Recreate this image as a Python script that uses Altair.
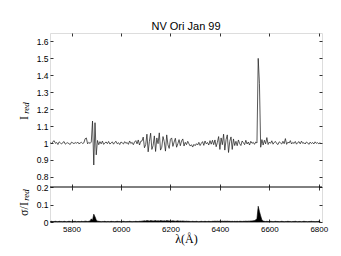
import altair as alt
import pandas as pd

flux = [
    # 5715 - 5850
    1.002, 0.996, 1.009, 1.013, 0.998, 1.003, 0.991, 1.007, 1.000, 0.994,
    1.004, 1.008, 0.993, 0.999, 1.002, 0.995, 0.992, 1.005, 1.001, 0.996,
    1.003, 0.998, 1.006, 0.995, 1.000, 1.004, 0.997, 1.001,
    # 5855 - 5910 (Na D)
    1.025, 1.030, 0.995, 1.004, 0.997, 1.006, 1.130, 0.870, 1.120, 0.930,
    1.015, 0.990,
    # 5915 - 6080
    1.008, 0.995, 1.011, 0.992, 1.001, 1.006, 0.996, 1.009, 0.994, 0.999,
    1.007, 0.993, 1.004, 1.010, 0.995, 1.002, 0.991, 1.006, 1.001, 0.994,
    1.008, 0.998, 1.003, 0.992, 1.012, 0.997, 1.004, 0.990, 1.006, 1.014,
    0.995, 1.018, 0.988, 1.010,
    # 6085 - 6200
    1.012, 1.035, 0.972, 0.990, 1.052, 0.948, 1.010, 1.058, 0.962, 0.985,
    1.042, 0.950, 1.030, 0.996, 1.060, 0.958, 0.975, 1.038, 1.008, 0.952,
    1.048, 0.990, 0.968, 1.022,
    # 6205 - 6270
    1.030, 0.980, 1.006, 1.028, 0.975, 0.996, 1.020, 0.984, 1.012, 1.024,
    0.982, 1.004, 0.990, 1.010,
    # 6275 - 6375
    0.995, 0.982, 0.990, 0.976, 0.992, 0.984, 0.996, 0.988, 1.004, 0.985,
    0.998, 1.008, 0.986, 1.012, 0.995, 1.003, 0.988, 1.014, 0.993, 1.016,
    0.990,
    # 6380 - 6460
    1.018, 0.978, 1.004, 1.038, 0.962, 1.030, 0.990, 1.052, 0.958, 1.020,
    1.048, 0.944, 1.010, 1.036, 0.962, 1.024, 0.985,
    # 6465 - 6545
    1.010, 0.984, 1.018, 0.996, 0.985, 1.012, 1.002, 0.990, 1.016, 0.994,
    1.006, 0.988, 1.010, 0.998, 1.004, 0.992, 1.006,
    # 6550 - 6570 (H alpha)
    1.000, 1.500, 1.350, 0.975, 1.020,
    # 6575 - 6805
    0.988, 1.016, 0.995, 1.032, 0.991, 1.006, 0.998, 1.013, 0.993, 1.004,
    1.009, 0.996, 0.991, 1.007, 1.001, 0.994, 1.010, 0.996, 1.026, 0.992,
    1.005, 1.000, 1.014, 0.994, 1.004, 0.997, 1.009, 0.993, 1.003, 1.008,
    0.995, 1.011, 0.998, 1.002, 0.994, 1.006, 1.001, 0.992, 1.005, 0.997,
    1.003, 0.994, 1.007, 0.998, 1.002, 0.995, 1.004,
]

# sigma / I_red on the same sampling
sigma = [
    # 5715 - 5870
    0.003, 0.004, 0.002, 0.003, 0.004, 0.003, 0.002, 0.004, 0.003, 0.003,
    0.002, 0.004, 0.003, 0.002, 0.003, 0.004, 0.003, 0.002, 0.003, 0.003,
    0.004, 0.002, 0.003, 0.003, 0.002, 0.004, 0.003, 0.003, 0.005, 0.004,
    0.003, 0.004,
    # 5875 - 5905
    0.006, 0.018, 0.010, 0.045, 0.030, 0.012, 0.005,
    # 5910 - 6080
    0.004, 0.003, 0.002, 0.003, 0.003, 0.004, 0.002, 0.003, 0.003, 0.002,
    0.004, 0.003, 0.003, 0.002, 0.003, 0.004, 0.003, 0.003, 0.002, 0.003,
    0.004, 0.003, 0.002, 0.003, 0.003, 0.004, 0.003, 0.002, 0.003, 0.003,
    0.004, 0.003, 0.003, 0.004, 0.004,
    # 6085 - 6270
    0.005, 0.006, 0.007, 0.006, 0.008, 0.007, 0.006, 0.008, 0.007, 0.006,
    0.007, 0.008, 0.006, 0.007, 0.006, 0.008, 0.007, 0.006, 0.007, 0.006,
    0.008, 0.007, 0.006, 0.007, 0.006, 0.007, 0.006, 0.005, 0.006, 0.007,
    0.005, 0.006, 0.005, 0.006, 0.005, 0.004, 0.005, 0.004,
    # 6275 - 6530
    0.004, 0.003, 0.003, 0.004, 0.003, 0.003, 0.004, 0.003, 0.002, 0.003,
    0.004, 0.003, 0.003, 0.004, 0.003, 0.003, 0.004, 0.003, 0.003, 0.004,
    0.004, 0.005, 0.004, 0.005, 0.004, 0.005, 0.004, 0.005, 0.004, 0.005,
    0.004, 0.005, 0.004, 0.004, 0.003, 0.004, 0.003, 0.004, 0.003, 0.004,
    0.003, 0.004, 0.004, 0.003, 0.004, 0.004, 0.005, 0.004, 0.005, 0.005,
    0.006, 0.006,
    # 6535 - 6575 (H alpha)
    0.007, 0.008, 0.012, 0.020, 0.090, 0.060, 0.035, 0.012, 0.006,
    # 6580 - 6805
    0.004, 0.003, 0.004, 0.003, 0.003, 0.004, 0.003, 0.002, 0.003, 0.004,
    0.003, 0.003, 0.002, 0.003, 0.004, 0.003, 0.002, 0.003, 0.003, 0.004,
    0.003, 0.003, 0.002, 0.003, 0.003, 0.004, 0.003, 0.002, 0.003, 0.003,
    0.002, 0.003, 0.004, 0.003, 0.003, 0.002, 0.003, 0.003, 0.004, 0.003,
    0.003, 0.002, 0.003, 0.003, 0.004, 0.003,
]
assert len(flux) == len(sigma)

wavelength = [5715 + 5 * i for i in range(len(flux))]

x_ticks = [5800, 6000, 6200, 6400, 6600, 6800]
top_y_ticks = [0.8, 0.9, 1.0, 1.1, 1.2, 1.3, 1.4, 1.5, 1.6]
bot_y_ticks = [0, 0.1, 0.2]

df = pd.DataFrame({"wl": wavelength, "flux": flux, "sigma": sigma})

X_DOM = [5713, 6813]
TOP_DOM = [0.74, 1.65]
BOT_DOM = [0, 0.2]
W = 272
H_TOP, H_BOT = 154, 35
H = H_TOP + H_BOT
FONT = "Liberation Sans"
SERIF = "Liberation Serif"
TICK = 3

X_SCALE = dict(domain=X_DOM, nice=False, zero=False)
TOP_SCALE = dict(domain=TOP_DOM, nice=False, zero=False, range=[H_TOP, 0])
BOT_SCALE = dict(domain=BOT_DOM, nice=False, zero=True, range=[H, H_TOP])


def tick_axis(orient, values, offset=-TICK, **kw):
    base = dict(orient=orient, values=values, tickSize=TICK, offset=offset,
                domain=False, grid=False, title=None, tickColor="black",
                tickWidth=0.8, labels=False)
    base.update(kw)
    return alt.Axis(**base)


LABELS = dict(labels=True, labelFont=FONT, labelColor="black", labelPadding=2)


def label_text(text, x, y, size, italic=False):
    return alt.Chart(pd.DataFrame({"t": [text]})).mark_text(
        angle=270, font=SERIF, fontSize=size, color="black",
        fontStyle="italic" if italic else "normal",
        align="center", baseline="middle",
    ).encode(x=alt.value(x), y=alt.value(y), text="t:N")


# ---------------- upper panel: I_red ----------------
top_line = alt.Chart(df).mark_line(color="#222222", strokeWidth=0.75).encode(
    x=alt.X("wl:Q", scale=alt.Scale(**X_SCALE),
            axis=tick_axis("top", x_ticks)),
    y=alt.Y("flux:Q", scale=alt.Scale(**TOP_SCALE),
            axis=tick_axis("left", top_y_ticks, format="~g",
                           labelFontSize=8.5, **LABELS)),
)
top_ticks = alt.Chart(df).mark_line(opacity=0).encode(
    x=alt.X("wl:Q", scale=alt.Scale(**X_SCALE),
            axis=tick_axis("bottom", x_ticks, offset=-(H_BOT + TICK))),
    y=alt.Y("flux:Q", scale=alt.Scale(**TOP_SCALE),
            axis=tick_axis("right", top_y_ticks)),
)

# ---------------- lower panel: sigma / I_red ----------------
bot_area = alt.Chart(df).mark_area(color="black", stroke="black",
                                   strokeWidth=0.6).encode(
    x=alt.X("wl:Q", scale=alt.Scale(**X_SCALE),
            axis=tick_axis("bottom", x_ticks, format="d", labelFontSize=8,
                           title="λ(Å)", titleFont=SERIF, titleFontSize=12,
                           titleFontWeight="normal", titleColor="black",
                           titlePadding=0, **{**LABELS, "labelPadding": 3})),
    y=alt.Y("sigma:Q", scale=alt.Scale(**BOT_SCALE),
            axis=tick_axis("left", bot_y_ticks, format="~g",
                           labelFontSize=8.5, **LABELS)),
)
bot_ticks = alt.Chart(df).mark_line(opacity=0).encode(
    x=alt.X("wl:Q", scale=alt.Scale(**X_SCALE),
            axis=tick_axis("top", x_ticks, offset=-(H_TOP + TICK))),
    y=alt.Y("sigma:Q", scale=alt.Scale(**BOT_SCALE),
            axis=tick_axis("right", bot_y_ticks)),
)

# boundary between the two panels
divider = alt.Chart(pd.DataFrame({"d": [0]})).mark_rule(
    color="black", strokeWidth=1).encode(
    x=alt.value(0), x2=alt.value(W), y=alt.value(H_TOP))

chart = alt.layer(
    top_line, top_ticks, bot_area, bot_ticks, divider,
    label_text("I", -26, 85, 12),
    label_text("red", -24, 75, 9, italic=True),
    label_text("σ/I", -26, H_TOP + 22, 12),
    label_text("red", -24, H_TOP + 8, 9, italic=True),
).resolve_scale(x="independent", y="independent").properties(
    width=W, height=H,
    title=alt.TitleParams("NV Ori Jan 99", font=FONT, fontSize=11,
                          fontWeight="normal", anchor="middle", frame="group",
                          offset=1, color="black"),
    padding={"left": 10, "top": 12, "right": 5, "bottom": 2},
).configure_view(stroke="black", strokeWidth=1).configure(background="white")

chart.save("out.html", embed_options={"renderer": "svg", "actions": False})
